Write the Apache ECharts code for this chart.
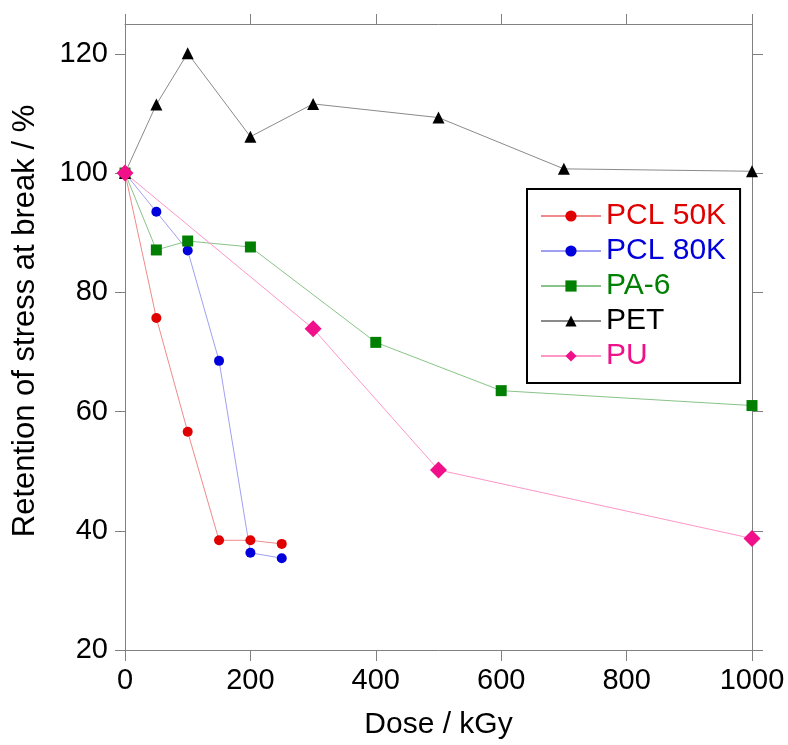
<!DOCTYPE html>
<html>
<head>
<meta charset="utf-8">
<script src="https://cdn.jsdelivr.net/npm/echarts@6/dist/echarts.min.js"></script>
<style>html,body{margin:0;padding:0;background:#fff}#c{width:788px;height:745px}</style>
</head>
<body>
<div id="c"></div>
<script>
// Data
const xTicks = [0, 200, 400, 600, 800, 1000];
const yTicks = [20, 40, 60, 80, 100, 120];

const pcl50Dose = [0, 50, 100, 150, 200, 250];
const pcl50Vals = [100, 75.7, 56.6, 38.4, 38.4, 37.8];

const pcl80Dose = [0, 50, 100, 150, 200, 250];
const pcl80Vals = [100, 93.5, 87.0, 68.5, 36.3, 35.4];

const pa6Dose = [0, 50, 100, 200, 400, 600, 1000];
const pa6Vals = [100, 87.1, 88.6, 87.6, 71.6, 63.5, 61.0];

const petDose = [0, 50, 100, 200, 300, 500, 700, 1000];
const petVals = [100, 111.5, 120.1, 106.1, 111.6, 109.3, 100.7, 100.3];

const puDose = [0, 300, 500, 1000];
const puVals = [100, 73.9, 50.2, 38.7];

const seriesNames = ['PCL 50K', 'PCL 80K', 'PA-6', 'PET', 'PU'];

function pairs(xs, ys) { return xs.map((x, i) => [x, ys[i]]); }

const FONT = "'Liberation Sans', Arial, sans-serif";
const axisGray = '#808080';

const styles = {
  'PCL 50K': { symbol: 'circle', size: 10, mark: '#e00000', line: '#f08a8a', text: '#e00000' },
  'PCL 80K': { symbol: 'circle', size: 10, mark: '#0000dd', line: '#a0a0f2', text: '#0000dd' },
  'PA-6':    { symbol: 'rect', size: 11, mark: '#007f00', line: '#88c488', text: '#008000' },
  'PET':     { symbol: 'triangle', size: 12, mark: '#000000', line: '#8a8a8a', text: '#000000' },
  'PU':      { symbol: 'diamond', size: 17, mark: '#f0108a', line: '#ff96c8', text: '#f0108a' }
};
const dataMap = {
  'PCL 50K': pairs(pcl50Dose, pcl50Vals),
  'PCL 80K': pairs(pcl80Dose, pcl80Vals),
  'PA-6': pairs(pa6Dose, pa6Vals),
  'PET': pairs(petDose, petVals),
  'PU': pairs(puDose, puVals)
};

const series = seriesNames.map(n => ({
  name: n,
  type: 'line',
  xAxisIndex: 0,
  yAxisIndex: 0,
  data: dataMap[n],
  symbol: styles[n].symbol,
  symbolSize: styles[n].size,
  showAllSymbol: true,
  itemStyle: { color: styles[n].mark, borderWidth: 0 },
  lineStyle: { color: styles[n].line, width: 1 },
  emphasis: { disabled: true },
  animation: false
}));

const chart = echarts.init(document.getElementById('c'), null, { renderer: 'canvas' });

const baseAxisLine = { show: true, onZero: false, lineStyle: { color: axisGray, width: 1 } };

chart.setOption({
  animation: false,
  backgroundColor: '#ffffff',
  textStyle: { fontFamily: FONT },
  grid: { left: 125, right: 36, top: 24, bottom: 94, containLabel: false },
  legend: {
    left: 527,
    top: 189,
    orient: 'vertical',
    backgroundColor: '#ffffff',
    borderColor: '#000000',
    borderWidth: 2,
    borderRadius: 0,
    padding: [12, 14, 12, 13],
    itemWidth: 60,
    itemHeight: 14,
    itemGap: 5,
    selectedMode: false,
    textStyle: { fontFamily: FONT, fontSize: 30, lineHeight: 30 },
    data: seriesNames.map(n => ({ name: n, textStyle: { color: styles[n].text } }))
  },
  xAxis: [
    {
      type: 'value', position: 'bottom', min: 0, max: 1000, interval: 200,
      axisLine: baseAxisLine,
      axisTick: { show: true, inside: false, length: 11, lineStyle: { color: axisGray } },
      axisLabel: { color: '#000', fontSize: 29, fontFamily: FONT, margin: 16, customValues: xTicks,
                   formatter: v => String(v) },
      splitLine: { show: false },
      name: 'Dose / kGy', nameLocation: 'middle', nameGap: 60,
      nameTextStyle: { color: '#000', fontSize: 30, fontFamily: FONT }
    },
    {
      type: 'value', position: 'top', min: 0, max: 1000, interval: 200,
      axisLine: baseAxisLine,
      axisTick: { show: true, inside: false, length: 10, lineStyle: { color: axisGray } },
      axisLabel: { show: false },
      splitLine: { show: false }
    }
  ],
  yAxis: [
    {
      type: 'value', position: 'left', min: 20, max: 125,
      axisLine: baseAxisLine,
      axisTick: { show: true, inside: false, length: 10, lineStyle: { color: axisGray }, customValues: yTicks },
      axisLabel: { color: '#000', fontSize: 29, fontFamily: FONT, margin: 17, customValues: yTicks,
                   formatter: v => String(v) },
      splitLine: { show: false },
      name: 'Retention of stress at break / %', nameLocation: 'middle', nameGap: 84,
      nameTextStyle: { color: '#000', fontSize: 31, fontFamily: FONT, padding: [0, 0, 0, 32] }
    },
    {
      type: 'value', position: 'right', min: 20, max: 125,
      axisLine: baseAxisLine,
      axisTick: { show: true, inside: false, length: 11, lineStyle: { color: axisGray }, customValues: yTicks },
      axisLabel: { show: false, customValues: yTicks },
      splitLine: { show: false }
    }
  ],
  series: series
});
</script>
</body>
</html>
